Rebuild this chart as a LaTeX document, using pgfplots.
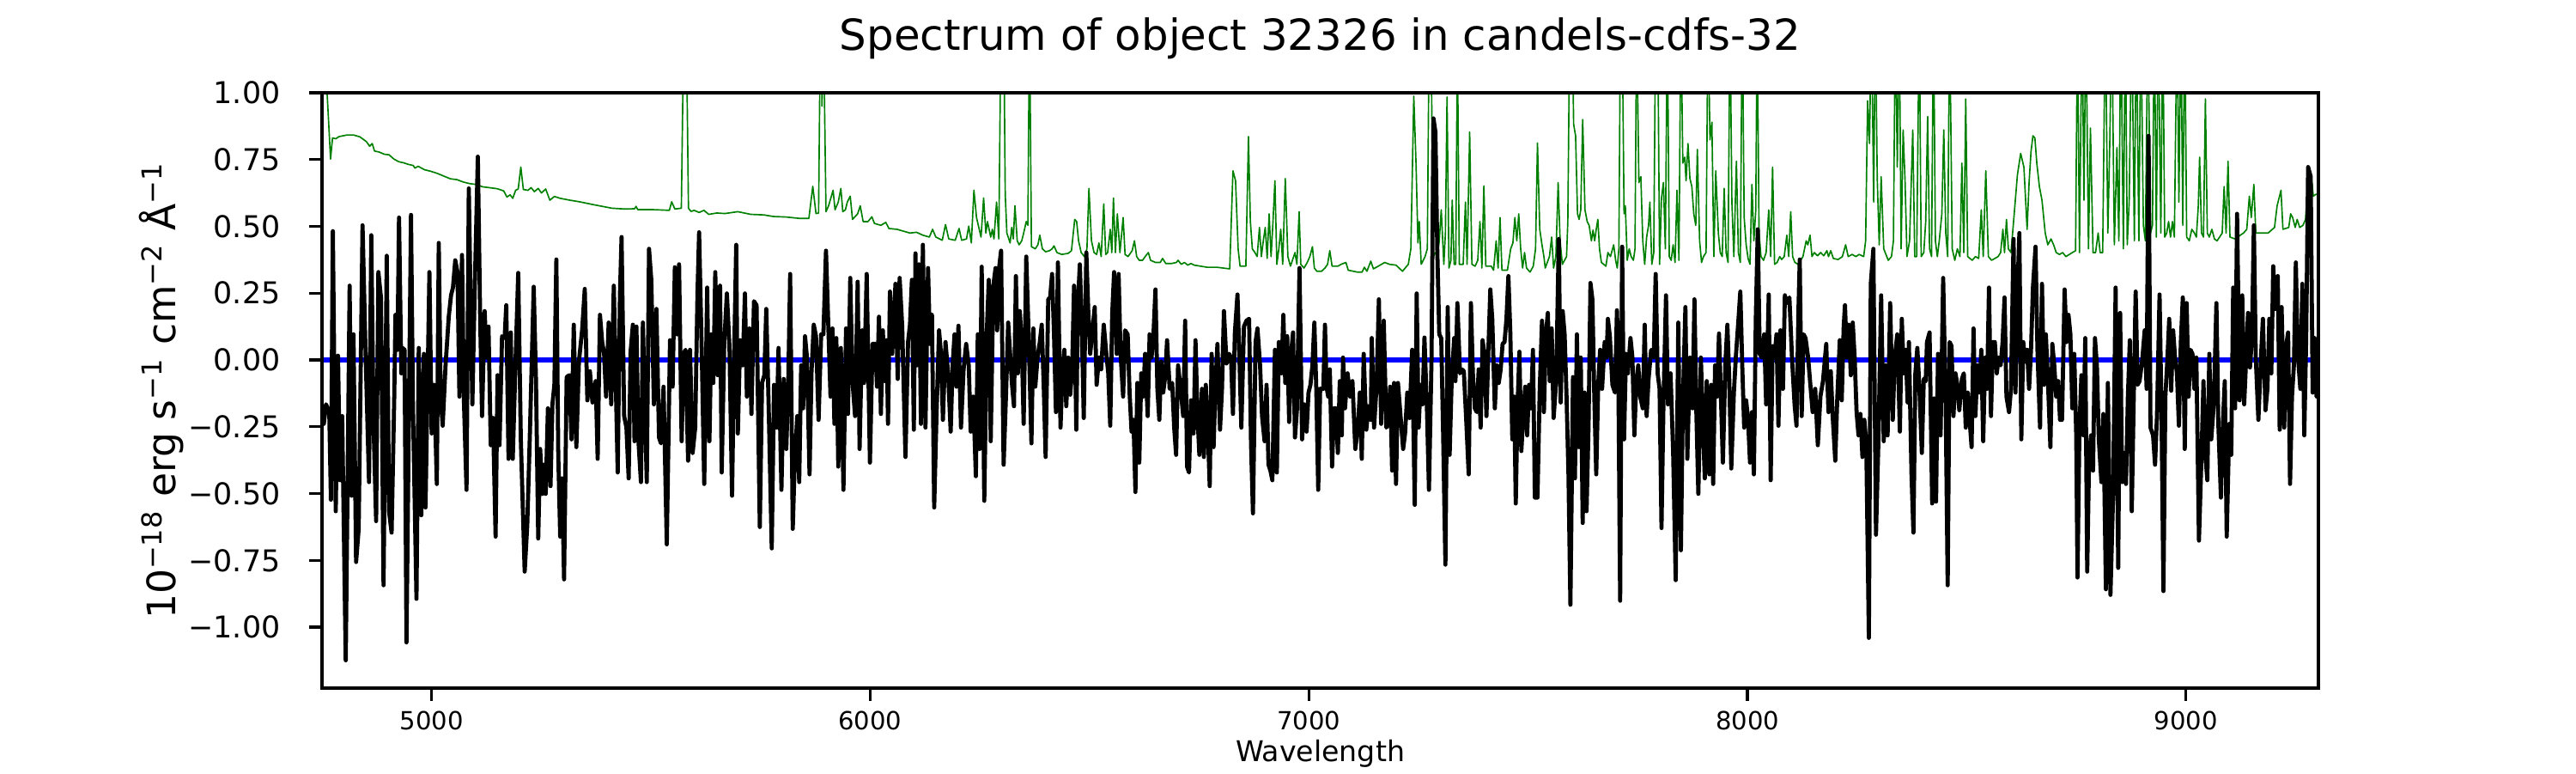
\documentclass[border=0pt]{standalone}
\usepackage{fontspec}
\setmainfont{DejaVu Sans}
\usepackage{pgfplots}
\pgfplotsset{compat=1.18}
\definecolor{mplgreen}{RGB}{0,128,0}
\definecolor{mplblue}{RGB}{0,0,255}
\begin{document}
\begin{tikzpicture}
\path[use as bounding box] (0,0) rectangle (722.7pt,216.81pt);
\begin{axis}[
  at={(90.34pt,23.85pt)}, anchor=south west,
  width=560.1pt, height=166.94pt, scale only axis,
  xmin=4750, xmax=9302, ymin=-1.228, ymax=1.0,
  xtick={5000,6000,7000,8000,9000},
  xticklabels={5000,6000,7000,8000,9000},
  ytick={-1,-0.75,-0.5,-0.25,0,0.25,0.5,0.75,1},
  yticklabels={−1.00,−0.75,−0.50,−0.25,0.00,0.25,0.50,0.75,1.00},
  tick pos=left, tick align=outside, major tick length=3.5pt,
  every tick/.style={black, line width=0.8pt},
  axis line style={line width=0.8pt},
  axis on top,
  xticklabel style={font=\fontsize{7}{8}\selectfont, anchor=base, inner sep=0pt, yshift=-8.2pt},
  yticklabel style={font=\fontsize{8.4}{10}\selectfont, anchor=east, inner sep=0pt, xshift=-8pt},
  xlabel={Wavelength},
  xlabel style={font=\fontsize{8}{9.6}\selectfont, at={(axis description cs:0.5,0)}, anchor=base, inner sep=0pt, yshift=-20.7pt},
  ylabel={10\textsuperscript{−18} erg s\textsuperscript{−1} cm\textsuperscript{−2} Å\textsuperscript{−1}},
  ylabel style={font=\fontsize{11}{13}\selectfont, at={(axis description cs:-0.0732,0.5)}, anchor=base, inner sep=0pt},
  title={Spectrum of object 32326 in candels-cdfs-32},
  title style={font=\fontsize{12}{14}\selectfont, at={(axis description cs:0.5,1.036)}, anchor=base, inner sep=0pt},
]
% noise / sky spectrum (green)
\addplot[mplgreen, line width=0.4pt, line join=round] coordinates {
(4750,1.3)(4760,1.05)(4769.5,0.752)(4774.0,0.831)(4781.3,0.828)(4788.7,0.836)(4807.1,0.842)(4821.8,0.842)(4836.5,0.835)(4851.3,0.817)(4858.6,0.800)(4864.5,0.810)(4869.7,0.782)(4880.7,0.778)(4891.8,0.770)(4902.8,0.768)(4913.9,0.752)(4924.9,0.742)(4935.9,0.738)(4947.0,0.732)(4958.0,0.728)(4961.7,0.718)(4969.1,0.725)(4983.8,0.712)(4998.5,0.706)(5013.3,0.698)(5028.0,0.688)(5042.7,0.678)(5057.5,0.675)(5072.2,0.666)(5086.9,0.660)(5101.6,0.657)(5116.4,0.648)(5131.1,0.645)(5149.5,0.641)(5164.2,0.633)(5171.6,0.610)(5179.0,0.618)(5184.9,0.605)(5191.5,0.635)(5197.4,0.640)(5203.3,0.722)(5209.1,0.638)(5219.5,0.635)(5226.8,0.645)(5234.2,0.630)(5243.0,0.642)(5250.4,0.625)(5260.0,0.640)(5269.5,0.598)(5279.8,0.612)(5293.1,0.605)(5315.2,0.598)(5337.3,0.592)(5366.7,0.582)(5388.8,0.575)(5410.9,0.568)(5440.4,0.565)(5462.5,0.566)(5466.1,0.575)(5469.8,0.563)(5499.3,0.563)(5528.7,0.561)(5542.0,0.560)(5547.2,0.592)(5554.5,0.565)(5569.3,0.568)(5575.1,1.3)(5580.3,1.3)(5585.5,0.568)(5591.3,0.556)(5598.7,0.560)(5609.8,0.552)(5620.8,0.560)(5631.8,0.545)(5650.3,0.550)(5668.6,0.548)(5698.1,0.555)(5727.6,0.545)(5757.0,0.543)(5779.1,0.537)(5808.6,0.535)(5838.0,0.530)(5860.1,0.530)(5869.0,0.650)(5876.3,0.548)(5882.2,0.550)(5886.6,1.3)(5890.0,0.95)(5893.0,1.3)(5899.1,0.555)
(5905.0,0.577)(5915.3,0.635)(5919.7,0.562)(5927.1,0.591)(5933.0,0.642)(5937.4,0.555)(5943.3,0.562)(5947.7,0.591)(5954.4,0.613)(5959.5,0.526)(5971.3,0.547)(5977.2,0.577)(5983.8,0.518)(5994.9,0.518)(6003.7,0.536)(6009.6,0.511)(6024.3,0.504)(6035.4,0.515)(6042.7,0.492)(6061.1,0.489)(6075.9,0.482)(6090.6,0.475)(6105.3,0.478)(6120.0,0.467)(6134.8,0.460)(6142.1,0.489)(6149.5,0.460)(6164.2,0.448)(6171.6,0.507)(6179.0,0.453)(6193.7,0.448)(6202.5,0.492)(6208.4,0.448)(6219.5,0.453)(6224.6,0.501)(6230.5,0.438)(6236.4,0.635)(6242.3,0.533)(6252.6,0.460)(6258.5,0.606)(6263.6,0.475)(6267.3,0.518)(6274.7,0.460)(6278.4,0.489)(6282.1,0.453)(6288.0,0.591)(6293.1,0.453)(6298.3,1.3)(6304.1,1.3)(6307.8,0.620)(6311.5,0.475)(6318.9,0.438)(6322.6,0.496)(6326.2,0.453)(6329.9,0.577)(6335.1,0.446)(6339.5,0.431)(6345.4,0.446)(6349.8,0.475)(6355.7,0.518)(6359.4,0.504)(6363.1,1.3)(6367.5,0.424)(6376.3,0.416)(6382.2,0.431)(6386.6,0.467)(6392.5,0.416)(6399.9,0.405)(6408.7,0.409)(6414.6,0.416)(6419.0,0.427)(6425.7,0.402)(6436.7,0.395)(6451.4,0.399)(6458.8,0.409)(6466.2,0.526)(6470.6,0.518)(6475.0,0.446)(6480.9,0.402)(6488.2,0.387)(6494.1,0.416)(6498.6,0.642)(6504.4,0.446)(6510.3,0.402)(6516.2,0.395)(6521.4,0.438)(6526.5,0.387)(6532.4,0.584)(6536.9,0.395)(6541.3,0.402)(6547.2,0.489)(6550.8,0.402)(6554.5,0.606)(6559.0,0.402)(6563.4,0.547)(6569.3,0.402)(6576.6,0.533)(6581.0,0.395)(6587.7,0.387)(6597.2,0.409)(6602.4,0.446)(6607.5,0.387)(6613.4,0.373)(6620.8,0.373)(6628.2,0.390)(6634.1,0.402)(6639.2,0.373)(6650.3,0.365)(6661.3,0.365)(6666.5,0.380)(6673.8,0.361)(6687.1,0.361)(6698.1,0.365)(6701.8,0.373)(6709.2,0.358)(6716.5,0.365)(6723.9,0.355)(6731.3,0.361)(6738.6,0.355)(6753.4,0.351)(6768.1,0.347)(6790.2,0.347)(6819.6,0.341)(6827.0,0.708)(6832.9,0.671)(6838.8,0.416)(6843.2,0.351)(6856.4,0.351)(6862.3,0.836)(6866.7,0.518)(6871.2,0.416)(6877.1,0.402)(6882.2,0.387)(6887.4,0.496)(6891.8,0.387)(6896.2,0.446)(6900.6,0.496)(6905.0,0.380)(6909.5,0.547)(6913.9,0.387)(6918.3,0.518)(6922.7,0.671)(6927.1,0.358)(6931.6,0.416)(6936.0,0.489)(6940.4,0.358)(6946.3,0.679)(6952.2,0.387)(6958.1,0.351)(6968.4,0.402)(6972.8,0.358)(6977.9,0.555)(6981.6,0.358)(6989.0,0.344)(6996.4,0.365)(7002.3,0.387)(7008.2,0.424)(7012.6,0.344)(7018.4,0.332)(7029.0,0.332)
(7036.8,0.344)(7042.7,0.358)(7047.8,0.409)(7053.0,0.351)(7066.2,0.351)(7073.6,0.358)(7084.6,0.365)(7089.8,0.336)(7110.4,0.329)(7121.5,0.329)(7126.6,0.347)(7132.5,0.332)(7141.3,0.370)(7147.2,0.341)(7158.3,0.351)(7173.0,0.365)(7184.0,0.358)(7198.8,0.355)(7213.5,0.332)(7226.8,0.358)(7232.6,0.416)(7239.3,0.987)(7244.4,0.737)(7248.8,0.438)(7251.8,0.518)(7256.2,0.358)(7265.0,0.387)(7270.2,0.416)(7274.6,1.3)(7278.3,1.3)(7283.5,0.387)(7288.6,0.402)(7293.0,0.387)(7297.4,0.446)(7301.9,0.562)(7307.8,0.358)(7311.4,0.475)(7315.1,0.984)(7319.5,0.344)(7324.0,0.373)(7326.9,0.598)(7331.3,0.358)(7335.0,0.358)(7338.7,1.2)(7343.1,0.358)(7351.9,0.358)(7357.1,0.591)(7360.8,0.358)(7366.7,0.853)(7371.8,0.358)(7379.2,0.351)(7385.1,0.373)(7390.2,0.518)(7394.6,0.344)(7399.1,0.652)(7403.5,0.351)(7416.0,0.351)(7421.2,0.336)(7427.1,0.446)(7431.5,0.344)(7435.9,0.533)(7440.3,0.336)(7452.8,0.336)(7460.2,0.416)(7465.3,0.438)(7469.8,0.533)(7474.2,0.446)(7478.6,0.547)(7483.0,0.416)(7487.4,0.344)(7491.9,0.402)(7496.3,0.344)(7504.4,0.329)(7511.7,0.351)(7516.9,0.416)(7521.3,0.812)(7526.5,0.489)(7531.6,0.431)(7536.0,0.387)(7539.0,0.344)(7548.6,0.387)(7553.7,0.460)(7558.1,0.344)(7563.3,0.387)(7568.4,0.664)(7572.9,0.446)(7578.0,0.358)(7587.6,0.387)(7590.5,0.518)(7595.0,1.3)(7600.1,1.3)(7603.8,0.882)(7608.2,0.839)(7612.6,0.547)(7616.3,0.526)(7620.0,0.562)(7624.4,0.900)(7629.6,0.562)(7634.7,0.518)(7639.1,0.504)(7644.3,0.446)(7648.0,0.486)(7651.7,0.446)(7655.3,0.489)(7659.0,0.526)(7662.7,0.416)(7667.1,0.365)(7677.4,0.351)(7681.9,0.402)(7687.7,0.387)(7695.1,0.431)(7699.5,0.373)(7703.2,0.344)(7706.9,0.416)(7710.6,1.3)(7714.3,1.3)(7718.7,0.547)(7721.6,0.577)(7726.0,0.373)(7730.5,0.416)(7734.9,0.387)(7740.0,0.373)(7743.7,0.416)(7747.4,1.3)(7752.5,0.664)(7757.0,0.686)(7761.4,0.446)(7765.8,0.358)(7770.2,0.460)(7774.6,0.504)(7777.6,0.591)(7782.0,0.358)(7786.4,0.402)(7790.8,1.3)(7795.3,1.3)(7799.7,0.358)(7804.1,0.606)(7808.5,0.664)(7812.9,0.416)(7817.4,1.3)(7821.8,0.387)(7826.2,0.373)(7830.6,0.431)(7835.0,0.365)(7839.4,0.635)(7843.9,0.373)(7848.3,1.3)(7852.7,0.737)(7857.1,0.759)(7860.1,0.671)(7864.5,0.810)(7868.9,0.679)(7873.3,0.649)(7877.7,0.547)(7882.2,0.504)(7885.8,0.788)(7891.0,0.446)(7895.4,0.365)(7899.8,0.387)(7905.7,0.402)(7910.1,1.3)(7914.6,0.824)(7919.0,0.890)(7923.4,0.387)(7927.8,0.708)(7933.7,0.475)(7938.1,0.402)(7942.5,0.387)(7947.0,0.642)(7951.4,0.402)(7955.8,0.365)(7960.2,1.3)(7964.6,0.591)(7969.1,0.387)(7974.9,0.744)(7979.4,0.402)(7983.8,0.365)(7988.2,1.3)(7992.6,0.533)(7997.1,0.431)(8001.5,0.380)(8005.9,0.358)(8010.3,0.657)(8014.7,0.446)(8019.1,0.562)(8022.1,1.3)(8026.5,0.475)(8030.9,0.387)(8036.8,0.373)(8042.7,0.402)(8048.6,0.562)(8053.0,0.387)(8057.4,0.722)(8061.9,0.358)(8067.7,0.365)(8073.6,0.387)(8078.0,0.376)(8083.9,0.387)(8089.8,0.467)(8094.2,0.387)(8098.7,0.555)(8103.1,0.387)(8108.2,0.365)(8115.6,0.358)(8126.6,0.387)(8134.0,0.446)(8137.7,0.431)(8142.8,0.467)(8147.2,0.387)(8152.4,0.402)(8159.8,0.390)(8167.1,0.402)(8174.0,0.390)
(8181.2,0.409)(8184.8,0.387)(8190.0,0.409)(8195.9,0.380)(8206.9,0.376)(8216.5,0.387)(8223.9,0.431)(8229.8,0.387)(8238.6,0.395)(8247.4,0.387)(8254.8,0.395)(8265.1,0.387)(8269.5,0.446)(8274.0,0.970)(8278.4,0.810)(8282.8,1.3)(8287.9,0.591)(8291.6,1.3)(8296.0,0.679)(8300.5,0.431)(8304.9,0.686)(8310.8,0.416)(8321.1,0.373)(8328.4,0.387)(8332.9,0.446)(8337.3,1.3)(8341.7,0.722)(8346.1,1.3)(8350.5,0.416)(8355.0,0.861)(8359.4,0.671)(8363.8,0.387)(8369.7,0.446)(8377.0,0.861)(8381.5,0.387)(8385.9,0.387)(8391.8,1.3)(8396.2,0.387)(8402.1,0.402)(8406.5,0.518)(8410.9,0.911)(8415.3,0.416)(8419.8,0.387)(8424.2,1.3)(8428.6,0.446)(8433.0,0.387)(8437.4,0.446)(8443.3,0.547)(8447.7,0.861)(8452.2,0.475)(8456.6,0.387)(8461.0,1.3)(8466.9,0.416)(8472.8,0.373)(8478.7,0.416)(8484.6,0.387)(8489.0,0.737)(8493.4,0.402)(8497.8,0.977)(8502.2,0.387)(8512.5,0.373)(8519.9,0.387)(8527.3,0.380)(8533.2,0.562)(8537.6,0.387)(8543.5,0.708)(8549.4,0.387)(8556.7,0.373)(8571.5,0.387)(8577.3,0.402)(8582.5,0.489)(8586.2,0.402)(8590.6,0.526)(8595.0,0.416)(8600.9,0.402)(8608.3,0.547)(8615.6,0.693)(8623.0,0.773)(8630.4,0.722)(8637.7,0.489)(8642.2,0.664)(8646.6,0.780)(8651.0,0.839)(8655.4,0.831)(8659.8,0.737)(8665.7,0.649)(8671.6,0.598)(8679.0,0.475)(8684.9,0.431)(8692.2,0.453)(8698.1,0.431)(8704.0,0.402)(8711.4,0.395)(8718.7,0.402)(8726.1,0.387)(8740.8,0.402)(8748.2,0.409)(8752.6,1.3)(8757.0,0.402)(8762.9,1.3)(8767.3,0.598)(8771.8,1.3)(8777.6,0.416)(8782.1,0.868)(8788.0,0.402)(8793.8,0.402)(8799.7,0.475)(8804.2,0.402)(8810.0,0.402)(8815.9,1.3)(8821.8,0.475)(8826.3,0.824)(8830.7,1.3)(8836.6,0.431)(8842.5,0.795)(8846.9,0.446)(8851.3,1.3)(8857.2,0.416)(8861.6,1.3)(8866.0,0.431)(8870.4,0.591)(8876.3,1.3)(8882.2,0.446)(8886.6,1.3)(8892.5,0.446)(8897.0,1.3)(8902.8,0.504)(8907.3,0.446)(8913.1,1.3)(8919.0,0.475)(8923.4,0.504)(8927.9,1.3)(8932.3,0.460)(8936.7,1.3)(8942.6,0.475)(8947.0,1.3)(8951.4,0.460)(8955.9,0.475)(8960.3,0.518)(8964.7,0.460)(8969.1,0.518)(8973.5,0.460)(8979.4,1.3)(8983.8,0.591)(8988.2,1.3)(8992.7,0.504)(8997.1,1.3)(9001.5,0.460)(9007.4,0.446)(9013.3,0.489)(9019.2,0.475)(9023.6,0.460)(9028.0,0.577)(9031.0,0.759)(9035.4,0.475)(9039.8,0.460)(9044.2,0.977)(9048.6,0.475)(9053.1,0.460)(9059.0,0.489)(9064.8,0.453)(9070.7,0.446)(9076.6,0.460)(9082.5,0.475)(9086.9,0.649)(9091.4,0.475)(9095.8,0.744)(9100.2,0.460)(9112.0,0.453)(9123.8,0.467)(9131.1,0.475)(9138.5,0.489)(9144.4,0.613)(9148.8,0.533)(9154.7,0.657)(9159.1,0.475)(9172.4,0.475)(9187.1,0.475)(9201.8,0.496)(9207.7,0.577)(9212.1,0.606)(9216.5,0.635)(9221.0,0.489)(9234.2,0.496)(9238.6,0.547)(9243.1,0.533)(9249.0,0.496)(9253.4,0.526)(9259.3,0.496)(9266.6,0.504)(9272.5,0.526)(9276.9,0.649)(9281.3,0.700)(9285.8,0.686)(9290.2,0.613)(9296.1,0.620)(9302,0.620)
};
% model / zero level (blue)
\addplot[mplblue, line width=1.6pt] coordinates {(4750,0) (9302,0)};
% flux (black)
\addplot[black, line width=1.15pt, line join=round] coordinates {
(4751,-0.200)(4754.1,-0.239)(4759.2,-0.166)(4766.6,-0.195)(4770.3,-0.523)(4774.7,0.482)(4781.3,-0.566)(4786.5,0.016)(4790.9,-0.450)(4796.0,-0.210)(4804.1,-1.124)(4813.0,0.278)(4817.4,-0.508)(4821.8,0.096)(4827.7,-0.756)(4833.6,-0.632)(4842.4,0.504)(4848.3,0.096)(4851.3,-0.093)(4857.2,-0.457)(4862.3,0.467)(4867.5,-0.239)(4873.4,-0.603)(4878.5,0.329)(4884.4,0.234)(4890.3,-0.843)(4897.6,0.390)(4902.8,-0.566)(4908.7,-0.646)(4914.6,-0.151)(4917.5,0.169)(4922.0,0.038)(4925.6,0.533)(4930.8,-0.050)(4933.7,0.045)(4938.2,0.038)(4942.6,-1.057)(4952.9,0.543)(4957.3,-0.166)(4965.4,-0.894)(4970.6,0.045)(4976.4,-0.581)(4982.3,0.023)(4986.0,-0.552)(4994.9,0.329)(5000.0,-0.275)(5005.9,-0.093)(5011.8,-0.464)(5016.2,0.438)(5020.6,-0.137)(5025.1,-0.246)(5031.7,-0.020)(5039.0,0.162)(5044.2,0.242)(5048.6,0.271)(5053.8,0.373)(5058.9,0.329)(5063.3,-0.137)(5069.2,0.393)(5073.7,-0.159)(5079.5,-0.486)(5084.7,0.642)(5088.4,0.256)(5092.8,-0.166)(5097.9,0.242)(5105.3,0.761)(5110.5,0.169)(5114.9,-0.210)(5120.8,0.183)(5125.2,0.009)(5129.6,0.125)(5134.8,-0.319)(5139.9,-0.217)(5145.8,-0.661)(5150.2,-0.057)(5154.7,-0.319)(5160.5,0.089)(5166.4,0.082)(5170.1,0.205)(5175.3,-0.370)(5180.4,0.103)(5184.9,-0.370)(5191.5,0.009)(5197.4,0.326)(5203.3,-0.297)(5212.1,-0.792)(5218.0,-0.617)(5223.9,-0.282)(5232.7,0.274)(5237.9,-0.079)(5243.0,-0.668)(5247.4,-0.333)(5252.6,-0.501)(5256.3,-0.392)(5260.0,-0.501)(5265.1,-0.181)(5271.0,-0.472)(5275.4,-0.166)(5279.8,-0.093)(5284.3,0.376)(5288.7,-0.355)(5293.1,-0.661)(5297.5,-0.443)(5301.9,-0.821)(5307.8,-0.064)(5313.7,-0.057)(5318.9,-0.297)(5324.0,0.132)(5329.9,-0.326)(5335.8,-0.006)(5343.2,0.114)(5349.1,0.266)(5355.0,-0.151)(5360.8,-0.042)(5366.7,-0.159)(5374.1,-0.079)(5378.5,-0.370)(5383.7,0.169)(5388.8,0.067)(5393.2,0.023)(5397.7,-0.137)(5403.6,0.140)(5409.4,-0.166)(5415.3,0.278)(5419.8,-0.079)(5424.2,-0.421)(5429.3,0.242)(5433.0,0.460)(5438.9,-0.210)(5444.1,-0.253)(5449.2,-0.443)(5453.6,0.031)(5458.8,0.132)(5462.5,-0.304)(5466.9,0.125)(5471.3,-0.297)(5477.2,-0.457)(5481.6,0.140)(5486.0,-0.166)(5490.5,-0.457)(5495.6,0.416)(5500.8,0.300)(5506.7,-0.166)(5512.5,0.191)(5518.4,-0.290)(5522.9,-0.312)(5528.7,-0.100)(5536.1,-0.690)(5543.5,0.074)(5549.4,-0.100)(5554.5,0.347)(5559.7,0.096)(5564.1,0.358)(5570.0,-0.304)(5574.4,0.023)(5578.8,0.038)(5584.7,-0.377)(5589.1,0.038)(5595.0,-0.348)(5600.9,-0.253)(5606.1,0.249)(5609.8,0.478)(5615.6,0.045)(5621.5,-0.464)(5628.2,0.271)(5633.3,-0.304)(5637.7,0.096)(5642.2,-0.086)(5646.6,0.329)(5652.5,-0.057)(5657.6,0.278)(5661.3,-0.421)(5667.2,0.067)(5673.1,0.249)(5679.0,0.052)(5684.9,-0.508)(5689.3,-0.020)(5694.4,0.431)(5698.1,-0.275)(5703.3,0.074)(5709.2,-0.020)(5714.3,0.249)(5718.7,-0.137)(5724.6,0.118)(5729.1,-0.202)(5734.9,0.220)(5740.8,0.205)(5748.2,-0.625)(5753.3,-0.086)(5758.5,-0.057)(5762.9,0.191)(5768.8,-0.202)(5775.4,-0.705)(5780.6,-0.093)(5786.5,-0.253)(5790.9,0.045)(5797.5,-0.486)(5802.7,-0.071)(5808.6,-0.333)(5813.0,-0.093)(5817.4,0.322)(5823.3,-0.632)(5827.7,-0.384)(5833.6,-0.210)(5838.0,-0.457)(5842.5,-0.020)(5846.9,-0.181)(5851.3,0.089)(5855.7,0.009)(5861.6,-0.428)(5866.0,-0.050)(5871.2,0.132)(5876.3,0.089)(5882.2,-0.224)(5888.1,0.096)
(5893.2,0.096)(5899.1,0.409)(5905.0,0.096)(5909.4,-0.137)(5913.9,0.118)(5918.3,-0.239)(5922.7,0.082)(5927.1,-0.399)(5933.0,0.045)(5938.9,-0.486)(5944.8,0.118)(5949.2,-0.202)(5954.4,0.307)(5959.5,-0.079)(5965.4,-0.210)(5971.3,0.293)(5975.7,-0.333)(5981.6,0.111)(5986.0,-0.086)(5991.9,0.322)(5999.3,-0.384)(6005.2,0.060)(6011.1,0.060)(6015.5,-0.100)(6019.9,0.162)(6024.3,-0.202)(6028.7,0.111)(6033.2,-0.079)(6037.6,0.074)(6040.5,-0.239)(6045.0,0.256)(6050.1,0.023)(6053.8,0.154)(6057.5,0.285)(6062.6,-0.071)(6067.0,0.307)(6072.9,0.125)(6080.3,-0.363)(6086.2,0.067)(6090.6,0.132)(6095.0,0.300)(6099.4,-0.261)(6103.1,0.399)(6106.8,-0.020)(6111.2,0.358)(6115.6,-0.239)(6120.0,0.431)(6125.9,-0.253)(6131.8,0.344)(6136.2,0.060)(6140.7,0.169)(6145.8,-0.552)(6151.0,-0.210)(6156.9,0.111)(6161.3,0.023)(6165.7,-0.224)(6171.6,0.067)(6177.5,-0.050)(6183.4,-0.268)(6187.8,-0.020)(6192.2,0.096)(6196.6,-0.100)(6201.1,0.128)(6206.9,-0.253)(6212.8,-0.035)(6218.7,0.060)(6224.6,-0.020)(6229.0,-0.268)(6234.9,-0.137)(6240.8,-0.435)(6245.2,0.096)(6249.6,-0.333)(6254.1,0.349)(6260.0,-0.527)(6265.9,0.111)(6270.3,0.300)(6274.7,-0.304)(6280.6,0.278)(6285.7,0.344)(6289.4,0.111)(6293.8,0.344)(6298.3,0.409)(6304.1,-0.392)(6310.0,-0.108)(6314.5,0.140)(6318.9,0.023)(6323.3,-0.093)(6327.7,-0.173)(6332.1,0.314)(6336.5,-0.050)(6341.0,0.183)(6345.4,0.067)(6349.8,-0.239)(6355.7,0.387)(6361.6,0.067)(6367.5,-0.312)(6371.9,0.118)(6376.3,-0.100)(6381.5,0.009)(6386.6,0.067)(6391.0,0.132)(6395.5,-0.093)(6399.9,-0.363)(6405.8,0.227)(6410.2,0.234)(6414.6,0.322)(6419.0,0.096)(6423.4,-0.195)(6427.9,0.365)(6433.8,-0.253)(6438.2,-0.050)(6442.6,0.038)(6447.0,-0.173)(6451.4,0.009)(6455.9,-0.130)(6460.3,-0.035)(6464.7,0.278)(6469.8,-0.261)(6473.5,0.213)(6477.9,0.358)(6482.4,0.125)(6486.8,-0.217)(6492.7,0.402)(6497.1,0.183)(6501.5,0.023)(6506.7,0.111)(6511.8,0.198)(6516.2,-0.093)(6521.4,0.009)(6526.5,-0.035)(6532.4,0.132)(6538.3,0.023)(6542.7,-0.050)(6547.2,-0.246)(6551.6,0.169)(6556.0,0.329)(6561.9,0.023)(6566.3,0.322)(6570.7,0.023)(6576.6,-0.137)(6581.0,0.111)(6586.9,0.096)(6591.3,-0.122)(6595.8,-0.268)(6600.2,-0.224)(6604.6,-0.494)(6609.0,-0.086)(6613.4,-0.384)(6617.9,-0.050)(6622.3,-0.137)(6626.7,0.023)(6632.6,-0.210)(6637.0,0.096)(6641.4,0.009)(6645.8,0.096)(6650.3,0.264)(6654.7,-0.108)(6659.1,-0.224)(6663.5,-0.006)(6667.9,-0.122)(6672.3,-0.064)(6676.8,0.074)(6682.7,-0.108)(6688.5,-0.086)(6693.0,-0.253)(6697.4,-0.355)(6701.8,-0.020)(6707.7,-0.108)(6713.6,-0.210)(6718.0,0.147)(6722.4,-0.399)(6726.8,-0.421)(6731.3,-0.151)(6737.2,-0.275)(6741.6,0.074)(6746.0,-0.202)(6750.4,-0.355)(6756.3,-0.108)(6760.7,-0.363)(6765.1,-0.093)(6769.6,-0.253)(6774.0,-0.472)(6778.4,0.023)(6782.8,-0.326)(6787.2,-0.093)(6791.6,0.060)(6797.5,-0.261)(6802.0,-0.108)(6806.4,0.183)(6812.3,-0.013)(6818.2,0.023)(6822.6,0.009)(6827.0,-0.202)(6831.4,0.103)(6837.3,0.245)(6841.7,0.009)(6846.1,-0.253)(6852.0,0.125)(6857.9,0.147)(6863.8,0.154)(6868.2,-0.312)(6872.6,-0.574)(6878.5,0.067)(6882.9,0.118)(6888.8,-0.020)(6893.3,-0.210)(6899.1,-0.304)(6903.6,-0.093)(6908.0,-0.392)(6912.4,-0.414)(6916.8,-0.450)(6922.7,0.038)(6927.1,-0.421)(6931.6,0.067)(6937.5,-0.050)(6941.9,0.169)(6946.3,-0.086)(6950.7,0.089)(6955.1,-0.232)(6959.5,0.023)(6964.0,0.103)(6968.4,-0.290)(6972.8,-0.188)(6978.7,0.344)(6984.6,-0.297)(6989.0,-0.166)(6994.9,-0.268)(6999.3,-0.122)(7003.7,-0.093)(7008.2,-0.020)(7012.6,0.140)(7017.0,-0.108)(7021.4,-0.486)(7025.8,-0.108)
(7033.1,-0.108)(7036.8,0.132)(7040.4,-0.100)(7044.1,-0.137)(7047.8,-0.035)(7053.0,-0.399)(7057.4,-0.181)(7061.8,-0.181)(7066.2,-0.348)(7070.6,-0.079)(7075.1,-0.282)(7078.0,0.009)(7082.4,-0.181)(7088.3,-0.050)(7094.2,-0.137)(7099.4,-0.079)(7106.0,-0.333)(7111.9,-0.253)(7116.3,-0.122)(7120.7,-0.370)(7125.1,0.023)(7131.0,-0.261)(7136.2,-0.173)(7141.3,-0.224)(7143.5,0.082)(7148.7,-0.253)(7154.6,-0.093)(7159.7,0.227)(7164.9,-0.239)(7170.8,0.147)(7176.7,-0.253)(7181.1,-0.239)(7185.5,-0.100)(7189.9,-0.414)(7194.4,-0.086)(7198.8,-0.464)(7203.2,-0.086)(7209.1,-0.210)(7215.0,-0.333)(7219.4,-0.275)(7224.5,-0.122)(7229.7,-0.217)(7235.6,0.038)(7241.5,-0.542)(7245.9,0.249)(7250.3,-0.253)(7254.7,-0.093)(7259.2,-0.166)(7263.6,0.084)(7269.5,-0.195)(7273.9,-0.486)(7279.8,0.009)(7284.2,0.904)(7288.6,0.853)(7293.0,0.402)(7297.4,0.096)(7301.9,0.082)(7306.3,-0.282)(7311.4,-0.766)(7316.6,0.198)(7321.0,-0.355)(7325.4,-0.093)(7331.3,0.082)(7334.3,-0.079)(7338.7,0.213)(7344.6,-0.050)(7349.0,-0.035)(7353.4,-0.042)(7359.3,-0.239)(7364.5,-0.428)(7369.6,0.213)(7374.0,-0.050)(7378.5,-0.181)(7382.9,-0.195)(7387.3,-0.035)(7391.7,-0.253)(7396.1,0.074)(7400.5,0.023)(7405.0,-0.210)(7409.4,0.038)(7413.8,0.264)(7418.2,0.154)(7424.1,-0.181)(7428.5,-0.020)(7433.0,-0.086)(7437.4,-0.035)(7441.8,0.060)(7446.2,0.067)(7450.6,0.154)(7455.0,0.314)(7459.5,0.096)(7463.9,-0.297)(7468.3,-0.137)(7471.8,-0.537)(7475.7,-0.181)(7480.1,0.031)(7484.5,-0.341)(7488.9,-0.210)(7493.3,-0.100)(7497.8,-0.282)(7502.2,-0.093)(7506.6,-0.181)(7511.0,0.038)(7515.4,-0.515)(7521.3,-0.515)(7526.5,-0.108)(7531.6,0.147)(7536.0,-0.195)(7540.5,0.096)(7544.9,0.176)(7549.3,-0.079)(7553.7,0.118)(7558.1,-0.217)(7564.0,-0.079)(7569.9,0.453)(7574.3,-0.159)(7578.8,0.183)(7583.2,0.096)(7587.6,-0.137)(7592.0,-0.428)(7596.4,-0.916)(7602.3,-0.064)(7606.7,-0.443)(7611.2,0.096)(7615.6,-0.326)(7620.0,0.009)(7624.4,-0.610)(7628.8,-0.122)(7633.2,-0.566)(7637.7,-0.253)(7642.1,0.288)(7646.5,0.227)(7650.9,-0.137)(7655.3,-0.428)(7659.8,-0.093)(7664.2,0.038)(7668.6,-0.108)(7674.5,0.067)(7678.9,0.009)(7681.9,0.154)(7686.3,0.089)(7692.2,-0.093)(7698.1,-0.122)(7702.5,0.186)(7705.4,0.023)(7709.8,-0.901)(7714.3,0.424)(7718.7,-0.297)(7723.1,0.023)(7727.5,-0.050)(7733.4,0.082)(7737.8,0.009)(7742.2,-0.282)(7746.7,-0.079)(7751.1,-0.020)(7755.5,-0.137)(7761.4,-0.181)(7765.8,0.132)(7770.2,-0.210)(7774.6,-0.071)(7780.5,0.038)(7786.4,0.009)(7790.8,0.322)(7795.3,-0.050)(7799.7,-0.108)(7804.1,-0.629)(7808.5,-0.166)(7814.4,0.242)(7818.8,-0.166)(7824.7,-0.050)(7830.6,-0.341)(7836.5,-0.824)(7842.4,0.140)(7848.3,-0.712)(7852.7,-0.166)(7858.6,0.198)(7863.0,-0.370)(7868.9,0.009)(7874.8,-0.181)(7879.2,0.227)(7883.6,-0.195)(7888.1,-0.501)(7893.9,0.009)(7898.4,-0.239)(7902.8,-0.443)(7907.2,-0.079)(7913.1,-0.428)(7917.5,-0.093)(7921.9,-0.464)(7926.3,-0.020)(7930.8,-0.137)(7935.2,0.099)(7939.6,-0.137)(7944.0,-0.384)(7949.9,-0.006)(7954.3,0.132)(7958.7,-0.079)(7963.2,-0.406)(7969.1,-0.122)(7973.5,0.009)(7979.4,0.147)(7983.8,0.256)(7988.2,-0.020)(7992.6,-0.253)(7997.1,-0.151)(8001.5,-0.224)(8005.9,-0.384)(8010.3,-0.195)(8014.7,-0.428)(8019.1,0.154)(8023.6,0.489)(8028.0,0.023)(8032.4,0.009)(8038.3,0.096)(8042.7,-0.166)(8048.6,0.245)(8053.0,-0.450)(8057.4,0.052)(8061.9,0.009)(8066.3,0.096)(8070.7,-0.246)(8075.1,0.111)(8081.0,-0.108)(8085.4,0.242)(8089.8,0.213)(8095.7,0.234)(8101.6,0.009)(8107.5,-0.166)(8111.9,-0.246)(8116.3,0.183)(8119.3,0.376)(8123.7,-0.210)(8128.1,0.096)(8132.5,0.082)(8138.4,0.009)(8142.8,-0.079)(8148.7,-0.195)(8154.6,-0.108)(8160.5,-0.319)(8166.4,-0.137)(8172.3,-0.079)
(8179.7,0.060)(8184.8,-0.195)(8190.0,-0.042)(8194.4,-0.210)(8200.3,-0.377)(8204.7,-0.151)(8210.6,0.074)(8215.0,-0.151)(8219.5,0.125)(8222.4,0.205)(8226.8,0.009)(8231.2,0.132)(8235.7,-0.057)(8240.1,0.140)(8244.5,0.009)(8248.9,-0.195)(8253.3,-0.282)(8257.7,-0.202)(8262.2,-0.363)(8266.6,-0.224)(8271.0,-0.312)(8276.9,-1.040)(8281.3,0.285)(8287.2,0.416)(8293.1,-0.654)(8299.0,-0.282)(8304.9,0.242)(8310.8,-0.304)(8315.2,-0.020)(8319.6,-0.282)(8325.5,0.213)(8331.4,-0.224)(8335.8,0.009)(8341.7,0.096)(8347.6,-0.268)(8352.0,0.154)(8356.4,-0.050)(8360.8,0.038)(8365.3,-0.159)(8368.2,0.067)(8374.1,-0.428)(8378.5,-0.646)(8382.9,-0.050)(8387.4,0.045)(8391.8,-0.093)(8397.7,-0.348)(8402.1,-0.071)(8406.5,-0.079)(8409.4,0.067)(8415.3,0.103)(8421.2,-0.537)(8425.6,-0.144)(8430.1,-0.530)(8434.5,0.023)(8440.4,-0.282)(8446.3,0.307)(8452.2,-0.181)(8456.6,-0.843)(8461.0,0.067)(8465.4,0.052)(8469.8,-0.210)(8474.3,-0.050)(8478.7,-0.093)(8483.1,-0.188)(8489.0,-0.071)(8493.4,-0.050)(8497.8,-0.253)(8502.2,-0.122)(8506.7,-0.224)(8511.1,-0.326)(8515.5,0.118)(8519.9,-0.210)(8524.3,-0.020)(8528.7,-0.122)(8533.2,0.038)(8537.6,-0.304)(8542.0,0.009)(8546.4,-0.108)(8550.8,0.271)(8555.3,-0.210)(8559.7,0.067)(8564.1,0.067)(8568.5,-0.050)(8572.9,0.009)(8577.3,-0.020)(8581.8,0.067)(8586.2,0.234)(8590.6,-0.137)(8596.5,-0.195)(8600.9,-0.108)(8606.8,0.453)(8611.2,-0.122)(8615.6,0.256)(8620.1,0.475)(8624.5,-0.297)(8628.9,0.067)(8633.3,-0.006)(8637.7,0.038)(8642.2,-0.108)(8646.6,0.038)(8651.0,0.271)(8656.9,0.424)(8661.3,0.038)(8667.2,-0.253)(8671.6,0.285)(8676.0,-0.093)(8680.4,0.096)(8684.9,-0.064)(8690.8,-0.326)(8695.2,0.060)(8699.6,-0.020)(8704.0,-0.137)(8708.4,-0.079)(8712.8,-0.224)(8717.3,-0.224)(8723.2,0.264)(8727.6,0.067)(8732.0,0.169)(8736.4,0.096)(8740.8,-0.181)(8745.2,0.023)(8749.7,-0.282)(8752.6,-0.814)(8757.0,-0.253)(8761.5,-0.057)(8765.9,-0.282)(8770.3,0.082)(8774.7,-0.792)(8779.1,-0.355)(8783.5,-0.282)(8788.0,-0.414)(8792.4,0.082)(8796.8,-0.020)(8801.2,-0.297)(8807.1,-0.457)(8811.5,-0.202)(8817.4,-0.858)(8821.8,-0.086)(8827.7,-0.879)(8833.6,-0.515)(8839.5,0.271)(8845.4,-0.778)(8849.8,0.176)(8854.2,-0.457)(8858.7,-0.348)(8863.1,-0.464)(8867.5,-0.137)(8871.9,0.074)(8876.3,-0.566)(8880.7,-0.151)(8885.2,0.256)(8889.6,-0.093)(8894.0,-0.079)(8899.9,-0.006)(8905.8,0.111)(8910.2,-0.108)(8914.6,0.839)(8919.0,-0.253)(8924.9,-0.282)(8929.4,-0.392)(8933.8,-0.210)(8939.7,0.245)(8944.1,-0.195)(8948.5,-0.865)(8952.9,-0.137)(8957.3,-0.006)(8961.7,0.154)(8966.2,-0.115)(8970.6,0.111)(8975.0,0.009)(8979.4,-0.050)(8983.8,-0.246)(8988.2,0.067)(8992.7,0.234)(8997.1,-0.333)(9001.5,0.213)(9005.9,-0.137)(9010.3,0.038)(9014.7,0.023)(9019.2,-0.108)(9023.6,0.009)(9029.5,-0.676)(9035.4,-0.355)(9039.8,-0.079)(9044.2,-0.355)(9048.6,-0.450)(9053.1,0.023)(9057.5,-0.297)(9063.4,-0.166)(9069.3,0.213)(9073.7,-0.239)(9079.6,-0.515)(9084.0,-0.239)(9088.4,-0.079)(9092.8,-0.661)(9098.7,-0.239)(9103.1,-0.355)(9107.6,0.271)(9112.0,-0.181)(9116.4,0.547)(9122.3,-0.151)(9128.2,0.242)(9132.6,-0.166)(9137.0,0.001)(9141.4,0.176)(9145.8,-0.028)(9150.3,0.082)(9154.7,0.504)(9159.1,0.009)(9165.0,-0.224)(9170.9,0.009)(9175.3,0.154)(9181.2,-0.188)(9185.6,-0.108)(9190.0,0.154)(9194.5,-0.050)(9198.9,0.351)(9203.3,0.191)(9209.2,0.314)(9213.6,-0.261)(9218.0,0.198)(9223.9,-0.253)(9228.3,0.052)(9232.8,0.103)(9237.2,-0.464)(9241.6,-0.137)(9246.0,-0.020)(9250.4,0.365)(9254.8,0.023)(9260.7,-0.108)(9265.2,0.285)(9269.6,-0.282)(9274.0,0.082)(9278.4,0.722)(9284.3,0.686)(9288.7,-0.122)(9293.2,0.082)(9297.6,-0.137)(9301.5,-0.130)
};
\end{axis}
\end{tikzpicture}
\end{document}
